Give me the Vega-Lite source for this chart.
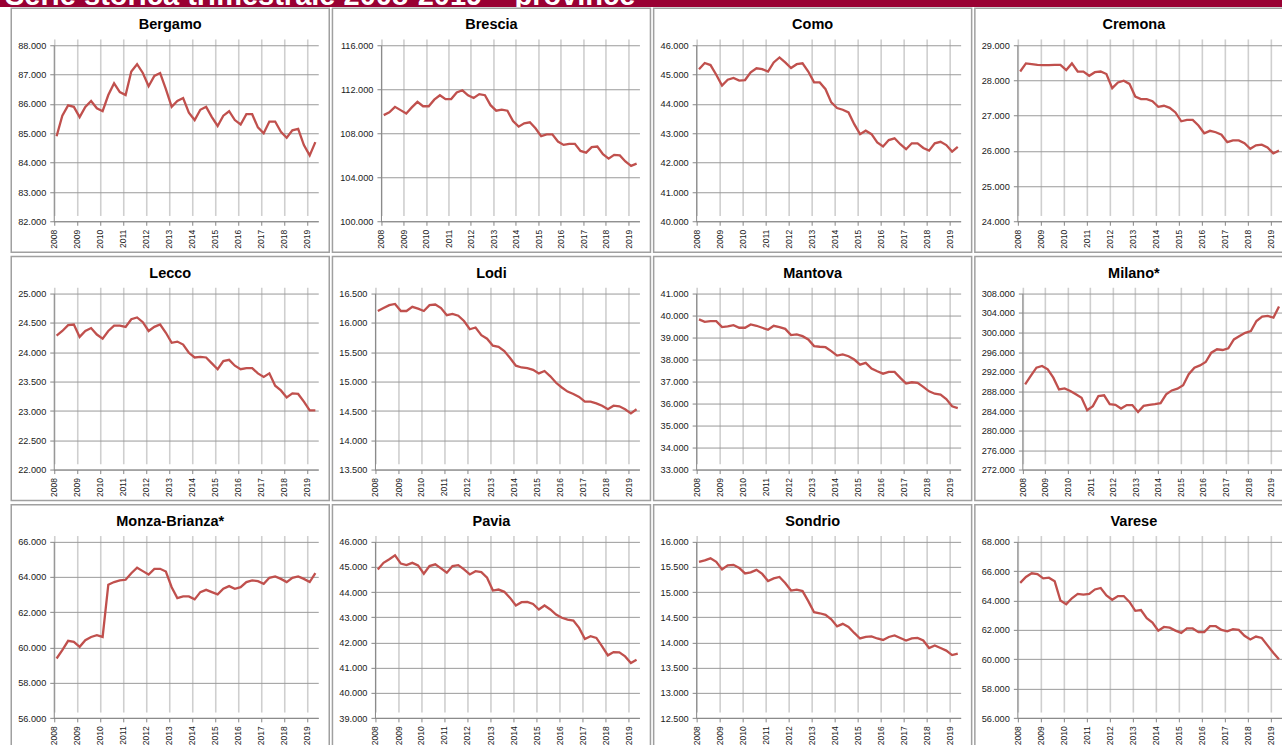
{
  "$schema": "https://vega.github.io/schema/vega-lite/v6.json",
  "padding": 0,
  "background": "white",
  "datasets": {
    "Bergamo": [
      {"t":"2008-02-15","v":84900},{"t":"2008-05-16","v":85600},{"t":"2008-08-16","v":85950},{"t":"2008-11-15","v":85900},
      {"t":"2009-02-15","v":85550},{"t":"2009-05-16","v":85900},{"t":"2009-08-16","v":86100},{"t":"2009-11-15","v":85850},
      {"t":"2010-02-15","v":85750},{"t":"2010-05-16","v":86300},{"t":"2010-08-16","v":86700},{"t":"2010-11-15","v":86400},
      {"t":"2011-02-15","v":86300},{"t":"2011-05-16","v":87100},{"t":"2011-08-16","v":87350},{"t":"2011-11-15","v":87050},
      {"t":"2012-02-15","v":86600},{"t":"2012-05-16","v":86950},{"t":"2012-08-16","v":87050},{"t":"2012-11-15","v":86500},
      {"t":"2013-02-15","v":85900},{"t":"2013-05-16","v":86100},{"t":"2013-08-16","v":86200},{"t":"2013-11-15","v":85700},
      {"t":"2014-02-15","v":85450},{"t":"2014-05-16","v":85800},{"t":"2014-08-16","v":85900},{"t":"2014-11-15","v":85550},
      {"t":"2015-02-15","v":85250},{"t":"2015-05-16","v":85600},{"t":"2015-08-16","v":85750},{"t":"2015-11-15","v":85450},
      {"t":"2016-02-15","v":85300},{"t":"2016-05-16","v":85650},{"t":"2016-08-16","v":85650},{"t":"2016-11-15","v":85200},
      {"t":"2017-02-15","v":85000},{"t":"2017-05-16","v":85400},{"t":"2017-08-16","v":85400},{"t":"2017-11-15","v":85050},
      {"t":"2018-02-15","v":84850},{"t":"2018-05-16","v":85100},{"t":"2018-08-16","v":85150},{"t":"2018-11-15","v":84600},
      {"t":"2019-02-15","v":84250},{"t":"2019-05-16","v":84700}
    ],
    "Brescia": [
      {"t":"2008-02-15","v":109650},{"t":"2008-05-16","v":109900},{"t":"2008-08-16","v":110400},{"t":"2008-11-15","v":110100},
      {"t":"2009-02-15","v":109800},{"t":"2009-05-16","v":110350},{"t":"2009-08-16","v":110850},{"t":"2009-11-15","v":110450},
      {"t":"2010-02-15","v":110450},{"t":"2010-05-16","v":111050},{"t":"2010-08-16","v":111450},{"t":"2010-11-15","v":111100},
      {"t":"2011-02-15","v":111100},{"t":"2011-05-16","v":111700},{"t":"2011-08-16","v":111900},{"t":"2011-11-15","v":111450},
      {"t":"2012-02-15","v":111200},{"t":"2012-05-16","v":111550},{"t":"2012-08-16","v":111450},{"t":"2012-11-15","v":110550},
      {"t":"2013-02-15","v":110050},{"t":"2013-05-16","v":110150},{"t":"2013-08-16","v":110050},{"t":"2013-11-15","v":109100},
      {"t":"2014-02-15","v":108600},{"t":"2014-05-16","v":108900},{"t":"2014-08-16","v":109000},{"t":"2014-11-15","v":108450},
      {"t":"2015-02-15","v":107750},{"t":"2015-05-16","v":107900},{"t":"2015-08-16","v":107900},{"t":"2015-11-15","v":107250},
      {"t":"2016-02-15","v":106950},{"t":"2016-05-16","v":107050},{"t":"2016-08-16","v":107050},{"t":"2016-11-15","v":106400},
      {"t":"2017-02-15","v":106250},{"t":"2017-05-16","v":106750},{"t":"2017-08-16","v":106800},{"t":"2017-11-15","v":106100},
      {"t":"2018-02-15","v":105700},{"t":"2018-05-16","v":106050},{"t":"2018-08-16","v":106000},{"t":"2018-11-15","v":105450},
      {"t":"2019-02-15","v":105050},{"t":"2019-05-16","v":105250}
    ],
    "Como": [
      {"t":"2008-02-15","v":45180},{"t":"2008-05-16","v":45390},{"t":"2008-08-16","v":45320},{"t":"2008-11-15","v":44990},
      {"t":"2009-02-15","v":44620},{"t":"2009-05-16","v":44820},{"t":"2009-08-16","v":44880},{"t":"2009-11-15","v":44790},
      {"t":"2010-02-15","v":44810},{"t":"2010-05-16","v":45070},{"t":"2010-08-16","v":45210},{"t":"2010-11-15","v":45180},
      {"t":"2011-02-15","v":45100},{"t":"2011-05-16","v":45410},{"t":"2011-08-16","v":45580},{"t":"2011-11-15","v":45410},
      {"t":"2012-02-15","v":45220},{"t":"2012-05-16","v":45350},{"t":"2012-08-16","v":45380},{"t":"2012-11-15","v":45100},
      {"t":"2013-02-15","v":44730},{"t":"2013-05-16","v":44730},{"t":"2013-08-16","v":44500},{"t":"2013-11-15","v":44050},
      {"t":"2014-02-15","v":43860},{"t":"2014-05-16","v":43800},{"t":"2014-08-16","v":43710},{"t":"2014-11-15","v":43310},
      {"t":"2015-02-15","v":42970},{"t":"2015-05-16","v":43090},{"t":"2015-08-16","v":42970},{"t":"2015-11-15","v":42690},
      {"t":"2016-02-15","v":42550},{"t":"2016-05-16","v":42770},{"t":"2016-08-16","v":42830},{"t":"2016-11-15","v":42630},
      {"t":"2017-02-15","v":42460},{"t":"2017-05-16","v":42660},{"t":"2017-08-16","v":42660},{"t":"2017-11-15","v":42500},
      {"t":"2018-02-15","v":42410},{"t":"2018-05-16","v":42660},{"t":"2018-08-16","v":42710},{"t":"2018-11-15","v":42600},
      {"t":"2019-02-15","v":42380},{"t":"2019-05-16","v":42540}
    ],
    "Cremona": [
      {"t":"2008-02-15","v":28250},{"t":"2008-05-16","v":28480},{"t":"2008-08-16","v":28460},{"t":"2008-11-15","v":28440},
      {"t":"2009-02-15","v":28430},{"t":"2009-05-16","v":28430},{"t":"2009-08-16","v":28440},{"t":"2009-11-15","v":28440},
      {"t":"2010-02-15","v":28290},{"t":"2010-05-16","v":28480},{"t":"2010-08-16","v":28250},{"t":"2010-11-15","v":28250},
      {"t":"2011-02-15","v":28130},{"t":"2011-05-16","v":28230},{"t":"2011-08-16","v":28250},{"t":"2011-11-15","v":28180},
      {"t":"2012-02-15","v":27780},{"t":"2012-05-16","v":27940},{"t":"2012-08-16","v":27990},{"t":"2012-11-15","v":27900},
      {"t":"2013-02-15","v":27540},{"t":"2013-05-16","v":27470},{"t":"2013-08-16","v":27470},{"t":"2013-11-15","v":27410},
      {"t":"2014-02-15","v":27250},{"t":"2014-05-16","v":27280},{"t":"2014-08-16","v":27220},{"t":"2014-11-15","v":27090},
      {"t":"2015-02-15","v":26840},{"t":"2015-05-16","v":26880},{"t":"2015-08-16","v":26880},{"t":"2015-11-15","v":26720},
      {"t":"2016-02-15","v":26500},{"t":"2016-05-16","v":26570},{"t":"2016-08-16","v":26530},{"t":"2016-11-15","v":26460},
      {"t":"2017-02-15","v":26250},{"t":"2017-05-16","v":26300},{"t":"2017-08-16","v":26300},{"t":"2017-11-15","v":26220},
      {"t":"2018-02-15","v":26060},{"t":"2018-05-16","v":26160},{"t":"2018-08-16","v":26180},{"t":"2018-11-15","v":26100},
      {"t":"2019-02-15","v":25930},{"t":"2019-05-16","v":26010}
    ],
    "Lecco": [
      {"t":"2008-02-15","v":24280},{"t":"2008-05-16","v":24360},{"t":"2008-08-16","v":24460},{"t":"2008-11-15","v":24470},
      {"t":"2009-02-15","v":24260},{"t":"2009-05-16","v":24360},{"t":"2009-08-16","v":24410},{"t":"2009-11-15","v":24300},
      {"t":"2010-02-15","v":24230},{"t":"2010-05-16","v":24360},{"t":"2010-08-16","v":24450},{"t":"2010-11-15","v":24450},
      {"t":"2011-02-15","v":24430},{"t":"2011-05-16","v":24560},{"t":"2011-08-16","v":24590},{"t":"2011-11-15","v":24510},
      {"t":"2012-02-15","v":24360},{"t":"2012-05-16","v":24430},{"t":"2012-08-16","v":24470},{"t":"2012-11-15","v":24330},
      {"t":"2013-02-15","v":24160},{"t":"2013-05-16","v":24180},{"t":"2013-08-16","v":24130},{"t":"2013-11-15","v":23990},
      {"t":"2014-02-15","v":23910},{"t":"2014-05-16","v":23920},{"t":"2014-08-16","v":23910},{"t":"2014-11-15","v":23810},
      {"t":"2015-02-15","v":23710},{"t":"2015-05-16","v":23850},{"t":"2015-08-16","v":23870},{"t":"2015-11-15","v":23770},
      {"t":"2016-02-15","v":23710},{"t":"2016-05-16","v":23730},{"t":"2016-08-16","v":23730},{"t":"2016-11-15","v":23640},
      {"t":"2017-02-15","v":23580},{"t":"2017-05-16","v":23640},{"t":"2017-08-16","v":23430},{"t":"2017-11-15","v":23350},
      {"t":"2018-02-15","v":23230},{"t":"2018-05-16","v":23300},{"t":"2018-08-16","v":23290},{"t":"2018-11-15","v":23160},
      {"t":"2019-02-15","v":23010},{"t":"2019-05-16","v":23010}
    ],
    "Lodi": [
      {"t":"2008-02-15","v":16200},{"t":"2008-05-16","v":16250},{"t":"2008-08-16","v":16300},{"t":"2008-11-15","v":16320},
      {"t":"2009-02-15","v":16200},{"t":"2009-05-16","v":16200},{"t":"2009-08-16","v":16270},{"t":"2009-11-15","v":16240},
      {"t":"2010-02-15","v":16200},{"t":"2010-05-16","v":16300},{"t":"2010-08-16","v":16310},{"t":"2010-11-15","v":16250},
      {"t":"2011-02-15","v":16130},{"t":"2011-05-16","v":16150},{"t":"2011-08-16","v":16120},{"t":"2011-11-15","v":16030},
      {"t":"2012-02-15","v":15890},{"t":"2012-05-16","v":15920},{"t":"2012-08-16","v":15790},{"t":"2012-11-15","v":15730},
      {"t":"2013-02-15","v":15610},{"t":"2013-05-16","v":15590},{"t":"2013-08-16","v":15520},{"t":"2013-11-15","v":15400},
      {"t":"2014-02-15","v":15270},{"t":"2014-05-16","v":15240},{"t":"2014-08-16","v":15230},{"t":"2014-11-15","v":15200},
      {"t":"2015-02-15","v":15140},{"t":"2015-05-16","v":15180},{"t":"2015-08-16","v":15090},{"t":"2015-11-15","v":14980},
      {"t":"2016-02-15","v":14900},{"t":"2016-05-16","v":14830},{"t":"2016-08-16","v":14790},{"t":"2016-11-15","v":14740},
      {"t":"2017-02-15","v":14660},{"t":"2017-05-16","v":14660},{"t":"2017-08-16","v":14630},{"t":"2017-11-15","v":14590},
      {"t":"2018-02-15","v":14530},{"t":"2018-05-16","v":14590},{"t":"2018-08-16","v":14580},{"t":"2018-11-15","v":14530},
      {"t":"2019-02-15","v":14460},{"t":"2019-05-16","v":14530}
    ],
    "Mantova": [
      {"t":"2008-02-15","v":39820},{"t":"2008-05-16","v":39710},{"t":"2008-08-16","v":39740},{"t":"2008-11-15","v":39740},
      {"t":"2009-02-15","v":39470},{"t":"2009-05-16","v":39500},{"t":"2009-08-16","v":39560},{"t":"2009-11-15","v":39440},
      {"t":"2010-02-15","v":39440},{"t":"2010-05-16","v":39590},{"t":"2010-08-16","v":39530},{"t":"2010-11-15","v":39440},
      {"t":"2011-02-15","v":39350},{"t":"2011-05-16","v":39530},{"t":"2011-08-16","v":39470},{"t":"2011-11-15","v":39390},
      {"t":"2012-02-15","v":39110},{"t":"2012-05-16","v":39140},{"t":"2012-08-16","v":39060},{"t":"2012-11-15","v":38910},
      {"t":"2013-02-15","v":38610},{"t":"2013-05-16","v":38580},{"t":"2013-08-16","v":38560},{"t":"2013-11-15","v":38380},
      {"t":"2014-02-15","v":38180},{"t":"2014-05-16","v":38230},{"t":"2014-08-16","v":38150},{"t":"2014-11-15","v":38000},
      {"t":"2015-02-15","v":37770},{"t":"2015-05-16","v":37850},{"t":"2015-08-16","v":37590},{"t":"2015-11-15","v":37470},
      {"t":"2016-02-15","v":37360},{"t":"2016-05-16","v":37440},{"t":"2016-08-16","v":37440},{"t":"2016-11-15","v":37170},
      {"t":"2017-02-15","v":36910},{"t":"2017-05-16","v":36970},{"t":"2017-08-16","v":36940},{"t":"2017-11-15","v":36760},
      {"t":"2018-02-15","v":36560},{"t":"2018-05-16","v":36450},{"t":"2018-08-16","v":36410},{"t":"2018-11-15","v":36210},
      {"t":"2019-02-15","v":35880},{"t":"2019-05-16","v":35800}
    ],
    "Milano": [
      {"t":"2008-02-15","v":289450},{"t":"2008-05-16","v":291150},{"t":"2008-08-16","v":292850},{"t":"2008-11-15","v":293200},
      {"t":"2009-02-15","v":292500},{"t":"2009-05-16","v":290800},{"t":"2009-08-16","v":288400},{"t":"2009-11-15","v":288600},
      {"t":"2010-02-15","v":288100},{"t":"2010-05-16","v":287400},{"t":"2010-08-16","v":286700},{"t":"2010-11-15","v":284150},
      {"t":"2011-02-15","v":285000},{"t":"2011-05-16","v":287050},{"t":"2011-08-16","v":287200},{"t":"2011-11-15","v":285400},
      {"t":"2012-02-15","v":285250},{"t":"2012-05-16","v":284500},{"t":"2012-08-16","v":285200},{"t":"2012-11-15","v":285200},
      {"t":"2013-02-15","v":283800},{"t":"2013-05-16","v":285050},{"t":"2013-08-16","v":285250},{"t":"2013-11-15","v":285400},
      {"t":"2014-02-15","v":285600},{"t":"2014-05-16","v":287400},{"t":"2014-08-16","v":288200},{"t":"2014-11-15","v":288550},
      {"t":"2015-02-15","v":289250},{"t":"2015-05-16","v":291500},{"t":"2015-08-16","v":292850},{"t":"2015-11-15","v":293300},
      {"t":"2016-02-15","v":294000},{"t":"2016-05-16","v":295900},{"t":"2016-08-16","v":296600},{"t":"2016-11-15","v":296450},
      {"t":"2017-02-15","v":296800},{"t":"2017-05-16","v":298600},{"t":"2017-08-16","v":299300},{"t":"2017-11-15","v":299950},
      {"t":"2018-02-15","v":300300},{"t":"2018-05-16","v":302350},{"t":"2018-08-16","v":303250},{"t":"2018-11-15","v":303400},
      {"t":"2019-02-15","v":303050},{"t":"2019-05-16","v":305300}
    ],
    "Monza": [
      {"t":"2008-02-15","v":59380},{"t":"2008-05-16","v":59850},{"t":"2008-08-16","v":60380},{"t":"2008-11-15","v":60320},
      {"t":"2009-02-15","v":60040},{"t":"2009-05-16","v":60420},{"t":"2009-08-16","v":60600},{"t":"2009-11-15","v":60700},
      {"t":"2010-02-15","v":60600},{"t":"2010-05-16","v":63560},{"t":"2010-08-16","v":63710},{"t":"2010-11-15","v":63800},
      {"t":"2011-02-15","v":63840},{"t":"2011-05-16","v":64210},{"t":"2011-08-16","v":64520},{"t":"2011-11-15","v":64330},
      {"t":"2012-02-15","v":64140},{"t":"2012-05-16","v":64460},{"t":"2012-08-16","v":64460},{"t":"2012-11-15","v":64310},
      {"t":"2013-02-15","v":63420},{"t":"2013-05-16","v":62800},{"t":"2013-08-16","v":62900},{"t":"2013-11-15","v":62900},
      {"t":"2014-02-15","v":62730},{"t":"2014-05-16","v":63140},{"t":"2014-08-16","v":63270},{"t":"2014-11-15","v":63140},
      {"t":"2015-02-15","v":63010},{"t":"2015-05-16","v":63330},{"t":"2015-08-16","v":63480},{"t":"2015-11-15","v":63330},
      {"t":"2016-02-15","v":63420},{"t":"2016-05-16","v":63710},{"t":"2016-08-16","v":63800},{"t":"2016-11-15","v":63760},
      {"t":"2017-02-15","v":63610},{"t":"2017-05-16","v":63950},{"t":"2017-08-16","v":64030},{"t":"2017-11-15","v":63890},
      {"t":"2018-02-15","v":63710},{"t":"2018-05-16","v":63950},{"t":"2018-08-16","v":64030},{"t":"2018-11-15","v":63890},
      {"t":"2019-02-15","v":63710},{"t":"2019-05-16","v":64210}
    ],
    "Pavia": [
      {"t":"2008-02-15","v":44900},{"t":"2008-05-16","v":45160},{"t":"2008-08-16","v":45300},{"t":"2008-11-15","v":45460},
      {"t":"2009-02-15","v":45130},{"t":"2009-05-16","v":45070},{"t":"2009-08-16","v":45160},{"t":"2009-11-15","v":45060},
      {"t":"2010-02-15","v":44730},{"t":"2010-05-16","v":45030},{"t":"2010-08-16","v":45100},{"t":"2010-11-15","v":44940},
      {"t":"2011-02-15","v":44770},{"t":"2011-05-16","v":45030},{"t":"2011-08-16","v":45070},{"t":"2011-11-15","v":44900},
      {"t":"2012-02-15","v":44700},{"t":"2012-05-16","v":44830},{"t":"2012-08-16","v":44790},{"t":"2012-11-15","v":44570},
      {"t":"2013-02-15","v":44060},{"t":"2013-05-16","v":44100},{"t":"2013-08-16","v":44010},{"t":"2013-11-15","v":43770},
      {"t":"2014-02-15","v":43470},{"t":"2014-05-16","v":43600},{"t":"2014-08-16","v":43610},{"t":"2014-11-15","v":43530},
      {"t":"2015-02-15","v":43310},{"t":"2015-05-16","v":43470},{"t":"2015-08-16","v":43310},{"t":"2015-11-15","v":43110},
      {"t":"2016-02-15","v":42980},{"t":"2016-05-16","v":42910},{"t":"2016-08-16","v":42870},{"t":"2016-11-15","v":42580},
      {"t":"2017-02-15","v":42140},{"t":"2017-05-16","v":42250},{"t":"2017-08-16","v":42180},{"t":"2017-11-15","v":41850},
      {"t":"2018-02-15","v":41490},{"t":"2018-05-16","v":41620},{"t":"2018-08-16","v":41610},{"t":"2018-11-15","v":41450},
      {"t":"2019-02-15","v":41190},{"t":"2019-05-16","v":41320}
    ],
    "Sondrio": [
      {"t":"2008-02-15","v":15600},{"t":"2008-05-16","v":15630},{"t":"2008-08-16","v":15670},{"t":"2008-11-15","v":15600},
      {"t":"2009-02-15","v":15450},{"t":"2009-05-16","v":15530},{"t":"2009-08-16","v":15540},{"t":"2009-11-15","v":15480},
      {"t":"2010-02-15","v":15370},{"t":"2010-05-16","v":15390},{"t":"2010-08-16","v":15440},{"t":"2010-11-15","v":15360},
      {"t":"2011-02-15","v":15220},{"t":"2011-05-16","v":15270},{"t":"2011-08-16","v":15300},{"t":"2011-11-15","v":15180},
      {"t":"2012-02-15","v":15030},{"t":"2012-05-16","v":15050},{"t":"2012-08-16","v":15020},{"t":"2012-11-15","v":14820},
      {"t":"2013-02-15","v":14600},{"t":"2013-05-16","v":14580},{"t":"2013-08-16","v":14550},{"t":"2013-11-15","v":14460},
      {"t":"2014-02-15","v":14320},{"t":"2014-05-16","v":14370},{"t":"2014-08-16","v":14310},{"t":"2014-11-15","v":14190},
      {"t":"2015-02-15","v":14080},{"t":"2015-05-16","v":14110},{"t":"2015-08-16","v":14120},{"t":"2015-11-15","v":14080},
      {"t":"2016-02-15","v":14050},{"t":"2016-05-16","v":14110},{"t":"2016-08-16","v":14140},{"t":"2016-11-15","v":14090},
      {"t":"2017-02-15","v":14040},{"t":"2017-05-16","v":14080},{"t":"2017-08-16","v":14090},{"t":"2017-11-15","v":14040},
      {"t":"2018-02-15","v":13890},{"t":"2018-05-16","v":13940},{"t":"2018-08-16","v":13890},{"t":"2018-11-15","v":13840},
      {"t":"2019-02-15","v":13750},{"t":"2019-05-16","v":13780}
    ],
    "Varese": [
      {"t":"2008-02-15","v":65200},{"t":"2008-05-16","v":65600},{"t":"2008-08-16","v":65850},{"t":"2008-11-15","v":65800},
      {"t":"2009-02-15","v":65500},{"t":"2009-05-16","v":65550},{"t":"2009-08-16","v":65300},{"t":"2009-11-15","v":64000},
      {"t":"2010-02-15","v":63750},{"t":"2010-05-16","v":64150},{"t":"2010-08-16","v":64450},{"t":"2010-11-15","v":64400},
      {"t":"2011-02-15","v":64450},{"t":"2011-05-16","v":64750},{"t":"2011-08-16","v":64850},{"t":"2011-11-15","v":64350},
      {"t":"2012-02-15","v":64050},{"t":"2012-05-16","v":64300},{"t":"2012-08-16","v":64300},{"t":"2012-11-15","v":63900},
      {"t":"2013-02-15","v":63300},{"t":"2013-05-16","v":63350},{"t":"2013-08-16","v":62800},{"t":"2013-11-15","v":62500},
      {"t":"2014-02-15","v":61950},{"t":"2014-05-16","v":62200},{"t":"2014-08-16","v":62150},{"t":"2014-11-15","v":61950},
      {"t":"2015-02-15","v":61800},{"t":"2015-05-16","v":62100},{"t":"2015-08-16","v":62100},{"t":"2015-11-15","v":61850},
      {"t":"2016-02-15","v":61850},{"t":"2016-05-16","v":62250},{"t":"2016-08-16","v":62250},{"t":"2016-11-15","v":62000},
      {"t":"2017-02-15","v":61900},{"t":"2017-05-16","v":62050},{"t":"2017-08-16","v":62000},{"t":"2017-11-15","v":61600},
      {"t":"2018-02-15","v":61350},{"t":"2018-05-16","v":61550},{"t":"2018-08-16","v":61450},{"t":"2018-11-15","v":60950},
      {"t":"2019-02-15","v":60450},{"t":"2019-05-16","v":60000}
    ]
  },
  "vconcat": [
    {
      "width": 1282,
      "height": 7,
      "data": {"values": [{"testo": "Serie storica trimestrale 2008-2019 – province"}]},
      "view": {"fill": "#990033", "stroke": null},
      "mark": {"type": "text", "clip": true, "color": "white", "font": "Liberation Sans", "fontWeight": "bold", "fontSize": 29, "align": "left", "baseline": "alphabetic", "dy": 1.5},
      "encoding": {
        "text": {"field": "testo"},
        "x": {"datum": 0, "type": "quantitative", "scale": {"domain": [0, 1], "range": [5, 1282]}, "axis": null}
      }
    },
    {
      "spacing": 2.25,
      "hconcat": [
        {"width": 8, "height": 740, "data": {"values": []}, "mark": "point", "view": {"stroke": null}},
        {
          "columns": 4,
          "spacing": {"row": 2.3, "column": 1.2},
          "concat": [
            {"title": "Bergamo", "width": 318, "height": 244, "data": {"name": "Bergamo"},
             "mark": {"type": "line", "color": "#c0504d", "strokeWidth": 2.3},
             "encoding": {
               "x": {"field": "t", "type": "temporal", "title": null,
                 "scale": {"type": "utc", "nice": false, "domain": [{"year": 2008, "month": 1, "date": 1, "utc": true}, {"year": 2019, "month": 7, "date": 1, "utc": true}], "range": [42.5, 307]},
                 "axis": {"offset": -31, "format": "%Y", "values": [{"year": 2008, "utc": true}, {"year": 2009, "utc": true}, {"year": 2010, "utc": true}, {"year": 2011, "utc": true}, {"year": 2012, "utc": true}, {"year": 2013, "utc": true}, {"year": 2014, "utc": true}, {"year": 2015, "utc": true}, {"year": 2016, "utc": true}, {"year": 2017, "utc": true}, {"year": 2018, "utc": true}, {"year": 2019, "utc": true}]}},
               "y": {"field": "v", "type": "quantitative", "title": null,
                 "scale": {"domain": [82000, 88000], "zero": false, "nice": false, "range": [213.3, 36.8]},
                 "axis": {"offset": -42.5, "format": ",.0f", "values": [82000, 83000, 84000, 85000, 86000, 87000, 88000]}}
             }},
            {"title": "Brescia", "width": 318, "height": 244, "data": {"name": "Brescia"},
             "mark": {"type": "line", "color": "#c0504d", "strokeWidth": 2.3},
             "encoding": {
               "x": {"field": "t", "type": "temporal", "title": null,
                 "scale": {"type": "utc", "nice": false, "domain": [{"year": 2008, "month": 1, "date": 1, "utc": true}, {"year": 2019, "month": 7, "date": 1, "utc": true}], "range": [48.5, 307]},
                 "axis": {"offset": -31, "format": "%Y", "values": [{"year": 2008, "utc": true}, {"year": 2009, "utc": true}, {"year": 2010, "utc": true}, {"year": 2011, "utc": true}, {"year": 2012, "utc": true}, {"year": 2013, "utc": true}, {"year": 2014, "utc": true}, {"year": 2015, "utc": true}, {"year": 2016, "utc": true}, {"year": 2017, "utc": true}, {"year": 2018, "utc": true}, {"year": 2019, "utc": true}]}},
               "y": {"field": "v", "type": "quantitative", "title": null,
                 "scale": {"domain": [100000, 116000], "zero": false, "nice": false, "range": [213.3, 36.8]},
                 "axis": {"offset": -48.5, "format": ",.0f", "values": [100000, 104000, 108000, 112000, 116000]}}
             }},
            {"title": "Como", "width": 318, "height": 244, "data": {"name": "Como"},
             "mark": {"type": "line", "color": "#c0504d", "strokeWidth": 2.3},
             "encoding": {
               "x": {"field": "t", "type": "temporal", "title": null,
                 "scale": {"type": "utc", "nice": false, "domain": [{"year": 2008, "month": 1, "date": 1, "utc": true}, {"year": 2019, "month": 7, "date": 1, "utc": true}], "range": [42.5, 307]},
                 "axis": {"offset": -31, "format": "%Y", "values": [{"year": 2008, "utc": true}, {"year": 2009, "utc": true}, {"year": 2010, "utc": true}, {"year": 2011, "utc": true}, {"year": 2012, "utc": true}, {"year": 2013, "utc": true}, {"year": 2014, "utc": true}, {"year": 2015, "utc": true}, {"year": 2016, "utc": true}, {"year": 2017, "utc": true}, {"year": 2018, "utc": true}, {"year": 2019, "utc": true}]}},
               "y": {"field": "v", "type": "quantitative", "title": null,
                 "scale": {"domain": [40000, 46000], "zero": false, "nice": false, "range": [213.3, 36.8]},
                 "axis": {"offset": -42.5, "format": ",.0f", "values": [40000, 41000, 42000, 43000, 44000, 45000, 46000]}}
             }},
            {"title": "Cremona", "width": 318, "height": 244, "data": {"name": "Cremona"},
             "mark": {"type": "line", "color": "#c0504d", "strokeWidth": 2.3},
             "encoding": {
               "x": {"field": "t", "type": "temporal", "title": null,
                 "scale": {"type": "utc", "nice": false, "domain": [{"year": 2008, "month": 1, "date": 1, "utc": true}, {"year": 2019, "month": 7, "date": 1, "utc": true}], "range": [42.5, 307]},
                 "axis": {"offset": -31, "format": "%Y", "values": [{"year": 2008, "utc": true}, {"year": 2009, "utc": true}, {"year": 2010, "utc": true}, {"year": 2011, "utc": true}, {"year": 2012, "utc": true}, {"year": 2013, "utc": true}, {"year": 2014, "utc": true}, {"year": 2015, "utc": true}, {"year": 2016, "utc": true}, {"year": 2017, "utc": true}, {"year": 2018, "utc": true}, {"year": 2019, "utc": true}]}},
               "y": {"field": "v", "type": "quantitative", "title": null,
                 "scale": {"domain": [24000, 29000], "zero": false, "nice": false, "range": [213.3, 36.8]},
                 "axis": {"offset": -42.5, "format": ",.0f", "values": [24000, 25000, 26000, 27000, 28000, 29000]}}
             }},
            {"title": "Lecco", "width": 318, "height": 244, "data": {"name": "Lecco"},
             "mark": {"type": "line", "color": "#c0504d", "strokeWidth": 2.3},
             "encoding": {
               "x": {"field": "t", "type": "temporal", "title": null,
                 "scale": {"type": "utc", "nice": false, "domain": [{"year": 2008, "month": 1, "date": 1, "utc": true}, {"year": 2019, "month": 7, "date": 1, "utc": true}], "range": [42.5, 307]},
                 "axis": {"offset": -31, "format": "%Y", "values": [{"year": 2008, "utc": true}, {"year": 2009, "utc": true}, {"year": 2010, "utc": true}, {"year": 2011, "utc": true}, {"year": 2012, "utc": true}, {"year": 2013, "utc": true}, {"year": 2014, "utc": true}, {"year": 2015, "utc": true}, {"year": 2016, "utc": true}, {"year": 2017, "utc": true}, {"year": 2018, "utc": true}, {"year": 2019, "utc": true}]}},
               "y": {"field": "v", "type": "quantitative", "title": null,
                 "scale": {"domain": [22000, 25000], "zero": false, "nice": false, "range": [213.3, 36.8]},
                 "axis": {"offset": -42.5, "format": ",.0f", "values": [22000, 22500, 23000, 23500, 24000, 24500, 25000]}}
             }},
            {"title": "Lodi", "width": 318, "height": 244, "data": {"name": "Lodi"},
             "mark": {"type": "line", "color": "#c0504d", "strokeWidth": 2.3},
             "encoding": {
               "x": {"field": "t", "type": "temporal", "title": null,
                 "scale": {"type": "utc", "nice": false, "domain": [{"year": 2008, "month": 1, "date": 1, "utc": true}, {"year": 2019, "month": 7, "date": 1, "utc": true}], "range": [42.5, 307]},
                 "axis": {"offset": -31, "format": "%Y", "values": [{"year": 2008, "utc": true}, {"year": 2009, "utc": true}, {"year": 2010, "utc": true}, {"year": 2011, "utc": true}, {"year": 2012, "utc": true}, {"year": 2013, "utc": true}, {"year": 2014, "utc": true}, {"year": 2015, "utc": true}, {"year": 2016, "utc": true}, {"year": 2017, "utc": true}, {"year": 2018, "utc": true}, {"year": 2019, "utc": true}]}},
               "y": {"field": "v", "type": "quantitative", "title": null,
                 "scale": {"domain": [13500, 16500], "zero": false, "nice": false, "range": [213.3, 36.8]},
                 "axis": {"offset": -42.5, "format": ",.0f", "values": [13500, 14000, 14500, 15000, 15500, 16000, 16500]}}
             }},
            {"title": "Mantova", "width": 318, "height": 244, "data": {"name": "Mantova"},
             "mark": {"type": "line", "color": "#c0504d", "strokeWidth": 2.3},
             "encoding": {
               "x": {"field": "t", "type": "temporal", "title": null,
                 "scale": {"type": "utc", "nice": false, "domain": [{"year": 2008, "month": 1, "date": 1, "utc": true}, {"year": 2019, "month": 7, "date": 1, "utc": true}], "range": [42.5, 307]},
                 "axis": {"offset": -31, "format": "%Y", "values": [{"year": 2008, "utc": true}, {"year": 2009, "utc": true}, {"year": 2010, "utc": true}, {"year": 2011, "utc": true}, {"year": 2012, "utc": true}, {"year": 2013, "utc": true}, {"year": 2014, "utc": true}, {"year": 2015, "utc": true}, {"year": 2016, "utc": true}, {"year": 2017, "utc": true}, {"year": 2018, "utc": true}, {"year": 2019, "utc": true}]}},
               "y": {"field": "v", "type": "quantitative", "title": null,
                 "scale": {"domain": [33000, 41000], "zero": false, "nice": false, "range": [213.3, 36.8]},
                 "axis": {"offset": -42.5, "format": ",.0f", "values": [33000, 34000, 35000, 36000, 37000, 38000, 39000, 40000, 41000]}}
             }},
            {"title": "Milano*", "width": 318, "height": 244, "data": {"name": "Milano"},
             "mark": {"type": "line", "color": "#c0504d", "strokeWidth": 2.3},
             "encoding": {
               "x": {"field": "t", "type": "temporal", "title": null,
                 "scale": {"type": "utc", "nice": false, "domain": [{"year": 2008, "month": 1, "date": 1, "utc": true}, {"year": 2019, "month": 7, "date": 1, "utc": true}], "range": [47.5, 307]},
                 "axis": {"offset": -31, "format": "%Y", "values": [{"year": 2008, "utc": true}, {"year": 2009, "utc": true}, {"year": 2010, "utc": true}, {"year": 2011, "utc": true}, {"year": 2012, "utc": true}, {"year": 2013, "utc": true}, {"year": 2014, "utc": true}, {"year": 2015, "utc": true}, {"year": 2016, "utc": true}, {"year": 2017, "utc": true}, {"year": 2018, "utc": true}, {"year": 2019, "utc": true}]}},
               "y": {"field": "v", "type": "quantitative", "title": null,
                 "scale": {"domain": [272000, 308000], "zero": false, "nice": false, "range": [213.3, 36.8]},
                 "axis": {"offset": -47.5, "format": ",.0f", "values": [272000, 276000, 280000, 284000, 288000, 292000, 296000, 300000, 304000, 308000]}}
             }},
            {"title": "Monza-Brianza*", "width": 318, "height": 244, "data": {"name": "Monza"},
             "mark": {"type": "line", "color": "#c0504d", "strokeWidth": 2.3},
             "encoding": {
               "x": {"field": "t", "type": "temporal", "title": null,
                 "scale": {"type": "utc", "nice": false, "domain": [{"year": 2008, "month": 1, "date": 1, "utc": true}, {"year": 2019, "month": 7, "date": 1, "utc": true}], "range": [42.5, 307]},
                 "axis": {"offset": -31, "format": "%Y", "values": [{"year": 2008, "utc": true}, {"year": 2009, "utc": true}, {"year": 2010, "utc": true}, {"year": 2011, "utc": true}, {"year": 2012, "utc": true}, {"year": 2013, "utc": true}, {"year": 2014, "utc": true}, {"year": 2015, "utc": true}, {"year": 2016, "utc": true}, {"year": 2017, "utc": true}, {"year": 2018, "utc": true}, {"year": 2019, "utc": true}]}},
               "y": {"field": "v", "type": "quantitative", "title": null,
                 "scale": {"domain": [56000, 66000], "zero": false, "nice": false, "range": [213.3, 36.8]},
                 "axis": {"offset": -42.5, "format": ",.0f", "values": [56000, 58000, 60000, 62000, 64000, 66000]}}
             }},
            {"title": "Pavia", "width": 318, "height": 244, "data": {"name": "Pavia"},
             "mark": {"type": "line", "color": "#c0504d", "strokeWidth": 2.3},
             "encoding": {
               "x": {"field": "t", "type": "temporal", "title": null,
                 "scale": {"type": "utc", "nice": false, "domain": [{"year": 2008, "month": 1, "date": 1, "utc": true}, {"year": 2019, "month": 7, "date": 1, "utc": true}], "range": [42.5, 307]},
                 "axis": {"offset": -31, "format": "%Y", "values": [{"year": 2008, "utc": true}, {"year": 2009, "utc": true}, {"year": 2010, "utc": true}, {"year": 2011, "utc": true}, {"year": 2012, "utc": true}, {"year": 2013, "utc": true}, {"year": 2014, "utc": true}, {"year": 2015, "utc": true}, {"year": 2016, "utc": true}, {"year": 2017, "utc": true}, {"year": 2018, "utc": true}, {"year": 2019, "utc": true}]}},
               "y": {"field": "v", "type": "quantitative", "title": null,
                 "scale": {"domain": [39000, 46000], "zero": false, "nice": false, "range": [213.3, 36.8]},
                 "axis": {"offset": -42.5, "format": ",.0f", "values": [39000, 40000, 41000, 42000, 43000, 44000, 45000, 46000]}}
             }},
            {"title": "Sondrio", "width": 318, "height": 244, "data": {"name": "Sondrio"},
             "mark": {"type": "line", "color": "#c0504d", "strokeWidth": 2.3},
             "encoding": {
               "x": {"field": "t", "type": "temporal", "title": null,
                 "scale": {"type": "utc", "nice": false, "domain": [{"year": 2008, "month": 1, "date": 1, "utc": true}, {"year": 2019, "month": 7, "date": 1, "utc": true}], "range": [42.5, 307]},
                 "axis": {"offset": -31, "format": "%Y", "values": [{"year": 2008, "utc": true}, {"year": 2009, "utc": true}, {"year": 2010, "utc": true}, {"year": 2011, "utc": true}, {"year": 2012, "utc": true}, {"year": 2013, "utc": true}, {"year": 2014, "utc": true}, {"year": 2015, "utc": true}, {"year": 2016, "utc": true}, {"year": 2017, "utc": true}, {"year": 2018, "utc": true}, {"year": 2019, "utc": true}]}},
               "y": {"field": "v", "type": "quantitative", "title": null,
                 "scale": {"domain": [12500, 16000], "zero": false, "nice": false, "range": [213.3, 36.8]},
                 "axis": {"offset": -42.5, "format": ",.0f", "values": [12500, 13000, 13500, 14000, 14500, 15000, 15500, 16000]}}
             }},
            {"title": "Varese", "width": 318, "height": 244, "data": {"name": "Varese"},
             "mark": {"type": "line", "color": "#c0504d", "strokeWidth": 2.3},
             "encoding": {
               "x": {"field": "t", "type": "temporal", "title": null,
                 "scale": {"type": "utc", "nice": false, "domain": [{"year": 2008, "month": 1, "date": 1, "utc": true}, {"year": 2019, "month": 7, "date": 1, "utc": true}], "range": [42.5, 307]},
                 "axis": {"offset": -31, "format": "%Y", "values": [{"year": 2008, "utc": true}, {"year": 2009, "utc": true}, {"year": 2010, "utc": true}, {"year": 2011, "utc": true}, {"year": 2012, "utc": true}, {"year": 2013, "utc": true}, {"year": 2014, "utc": true}, {"year": 2015, "utc": true}, {"year": 2016, "utc": true}, {"year": 2017, "utc": true}, {"year": 2018, "utc": true}, {"year": 2019, "utc": true}]}},
               "y": {"field": "v", "type": "quantitative", "title": null,
                 "scale": {"domain": [56000, 68000], "zero": false, "nice": false, "range": [213.3, 36.8]},
                 "axis": {"offset": -42.5, "format": ",.0f", "values": [56000, 58000, 60000, 62000, 64000, 66000, 68000]}}
             }}
          ]
        }
      ]
    }
  ],
  "spacing": 0.25,
  "config": {
    "locale": {"number": {"decimal": ",", "thousands": ".", "grouping": [3], "currency": ["", " €"]}},
    "font": "Liberation Sans",
    "view": {"stroke": "#a0a0a0", "strokeWidth": 1.5},
    "title": {"font": "Liberation Sans", "fontSize": 14.5, "fontWeight": "bold", "color": "#000000", "anchor": "middle", "frame": "group", "offset": -24.5, "baseline": "alphabetic"},
    "axis": {"labelFont": "Liberation Sans", "labelColor": "#1a1a1a", "domainColor": "#868686", "domainWidth": 1, "tickColor": "#868686", "tickSize": 4, "labelPadding": 4, "labelFlush": false, "labelOverlap": false},
    "axisX": {"labelAngle": -90, "labelFontSize": 8.5, "gridColor": "#cfcfcf", "gridWidth": 1.6},
    "axisY": {"labelFontSize": 9.2, "gridColor": "#9a9a9a", "gridWidth": 1}
  }
}
